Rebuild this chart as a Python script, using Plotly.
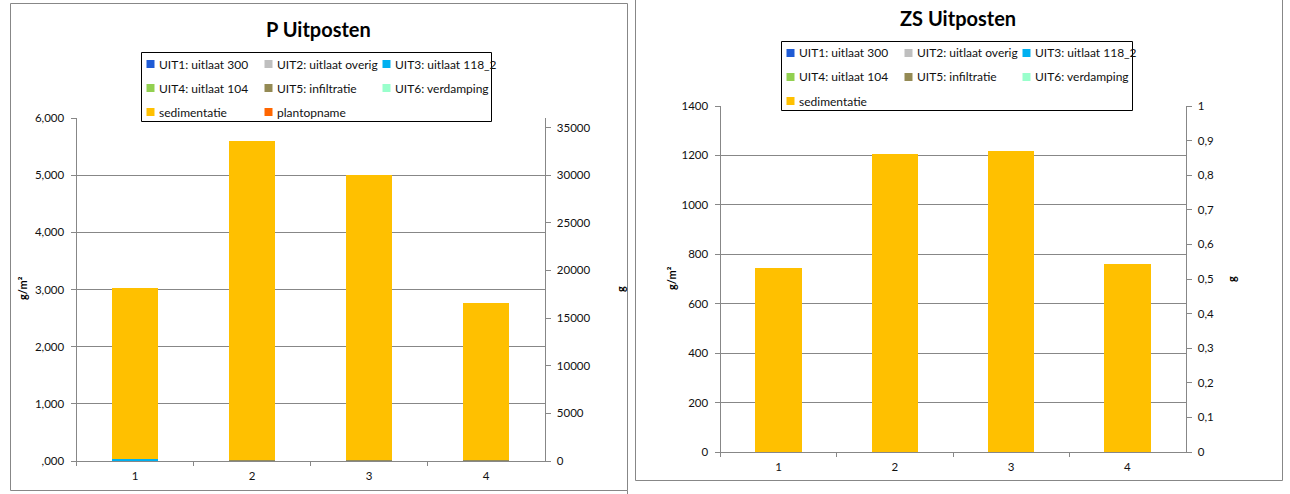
import plotly.graph_objects as go

W, H = 1290, 494

# categories and series (g/m2)
categories = ["1", "2", "3", "4"]
series_names = ["UIT1: uitlaat 300", "UIT2: uitlaat overig", "UIT3: uitlaat 118_2",
                "UIT4: uitlaat 104", "UIT5: infiltratie", "UIT6: verdamping",
                "sedimentatie", "plantopname"]
series_colors = ["#1F5BD5", "#BFBFBF", "#00B0F0", "#92D050", "#948A54", "#99FFCC",
                 "#FFC000", "#FF6600"]

# P Uitposten
p_uit1 = [0, 0, 0, 0]
p_uit2 = [0, 0, 0, 0]
p_uit3 = [40, 0, 0, 0]
p_uit4 = [0, 0, 0, 0]
p_uit5 = [0, 20, 20, 20]
p_uit6 = [0, 0, 0, 0]
p_sedimentatie = [2990, 5578, 4978, 2744]
p_plantopname = [0, 0, 0, 0]

# ZS Uitposten
zs_uit1 = [0, 0, 0, 0]
zs_uit2 = [0, 0, 0, 0]
zs_uit3 = [0, 0, 0, 0]
zs_uit4 = [0, 0, 0, 0]
zs_uit5 = [0, 0, 0, 0]
zs_uit6 = [0, 0, 0, 0]
zs_sedimentatie = [744, 1206, 1218, 761]

# tick labels
p_left_vals = [0, 1000, 2000, 3000, 4000, 5000, 6000]
p_left_text = [",000", "1,000", "2,000", "3,000", "4,000", "5,000", "6,000"]
p_right_vals = [0, 5000, 10000, 15000, 20000, 25000, 30000, 35000]
p_right_text = ["0", "5000", "10000", "15000", "20000", "25000", "30000", "35000"]
zs_left_vals = [0, 200, 400, 600, 800, 1000, 1200, 1400]
zs_left_text = ["0", "200", "400", "600", "800", "1000", "1200", "1400"]
zs_right_vals = [0, 0.1, 0.2, 0.3, 0.4, 0.5, 0.6, 0.7, 0.8, 0.9, 1]
zs_right_text = ["0", "0,1", "0,2", "0,3", "0,4", "0,5", "0,6", "0,7", "0,8", "0,9", "1"]

GRAY = "#878787"
FONT = "Lato"
TXT = "#111111"
TICKFONT = dict(family=FONT, size=11.5, color=TXT)


def px_x(v):
    return v / W


def px_y(v):
    return 1 - v / H


fig = go.Figure()

p_data = [p_uit1, p_uit2, p_uit3, p_uit4, p_uit5, p_uit6, p_sedimentatie, p_plantopname]
for name, vals, col in zip(series_names, p_data, series_colors):
    fig.add_trace(go.Bar(x=categories, y=vals, name=name, marker_color=col,
                         marker_line_width=0, xaxis="x", yaxis="y"))
# empty trace so the secondary axis is drawn
fig.add_trace(go.Scatter(x=categories, y=[None] * 4, xaxis="x", yaxis="y2", hoverinfo="skip"))

zs_data = [zs_uit1, zs_uit2, zs_uit3, zs_uit4, zs_uit5, zs_uit6, zs_sedimentatie]
for name, vals, col in zip(series_names[:7], zs_data, series_colors[:7]):
    fig.add_trace(go.Bar(x=categories, y=vals, name=name, marker_color=col,
                         marker_line_width=0, xaxis="x2", yaxis="y3"))
fig.add_trace(go.Scatter(x=categories, y=[None] * 4, xaxis="x2", yaxis="y4", hoverinfo="skip"))

xaxis_style = dict(type="category", showline=True, linecolor=GRAY, linewidth=1,
                   ticks="outside", ticklen=4, tickcolor=GRAY, tickson="boundaries",
                   showgrid=False, tickfont=TICKFONT, ticklabelstandoff=4,
                   fixedrange=True, automargin=False)
yaxis_style = dict(showline=True, linecolor=GRAY, linewidth=1, ticks="outside", ticklen=5,
                   tickcolor=GRAY, tickfont=TICKFONT, zeroline=False, fixedrange=True,
                   ticklabelstandoff=4, automargin=False)

# left chart: plot area x 76..544, y 118..461
# right chart: plot area x 720..1185, y 106..452
fig.update_layout(
    width=W, height=H,
    margin=dict(l=0, r=0, t=0, b=0, autoexpand=False),
    paper_bgcolor="white", plot_bgcolor="white",
    barmode="stack", bargap=0.6,
    showlegend=False,
    xaxis=dict(domain=[px_x(76.5), px_x(544.5)], anchor="y", **xaxis_style),
    yaxis=dict(domain=[px_y(461), px_y(118)], anchor="x", range=[0, 6000],
               tickvals=p_left_vals, ticktext=p_left_text,
               showgrid=True, gridcolor=GRAY, gridwidth=1, **yaxis_style),
    yaxis2=dict(overlaying="y", anchor="x", side="right", range=[0, 36000],
                tickvals=p_right_vals, ticktext=p_right_text, showgrid=False, **yaxis_style),
    xaxis2=dict(domain=[px_x(720.5), px_x(1185.5)], anchor="y3", **xaxis_style),
    yaxis3=dict(domain=[px_y(452), px_y(106)], anchor="x2", range=[0, 1400],
                tickvals=zs_left_vals, ticktext=zs_left_text,
                showgrid=True, gridcolor=GRAY, gridwidth=1, **yaxis_style),
    yaxis4=dict(overlaying="y3", anchor="x2", side="right", range=[0, 1],
                tickvals=zs_right_vals, ticktext=zs_right_text, showgrid=False, **yaxis_style),
)

shapes = [
    # panel borders
    dict(type="rect", x0=px_x(10.5), x1=px_x(627.5), y0=px_y(490.5), y1=px_y(3.5),
         line=dict(color=GRAY, width=1)),
    dict(type="line", x0=px_x(627.5), x1=px_x(627.5), y0=px_y(494), y1=px_y(490.5),
         line=dict(color=GRAY, width=1)),
    dict(type="line", x0=px_x(635.5), x1=px_x(635.5), y0=px_y(480.5), y1=1,
         line=dict(color=GRAY, width=1)),
    dict(type="line", x0=px_x(635.5), x1=px_x(1282.5), y0=px_y(480.5), y1=px_y(480.5),
         line=dict(color=GRAY, width=1)),
    dict(type="line", x0=px_x(1282.5), x1=px_x(1282.5), y0=px_y(480.5), y1=1,
         line=dict(color=GRAY, width=1)),
    # legend boxes
    dict(type="rect", x0=px_x(141.5), x1=px_x(491.5), y0=px_y(121.5), y1=px_y(52.5),
         line=dict(color="black", width=1)),
    dict(type="rect", x0=px_x(781.5), x1=px_x(1132.5), y0=px_y(110.5), y1=px_y(41.5),
         line=dict(color="black", width=1)),
]

ann = [
    dict(text="<b>P Uitposten</b>", x=px_x(318), y=px_y(29), font=dict(size=20)),
    dict(text="<b>ZS Uitposten</b>", x=px_x(958), y=px_y(18), font=dict(size=20)),
    dict(text="<b>g/m²</b>", x=px_x(22), y=px_y(288), textangle=-90, font=dict(size=11)),
    dict(text="<b>g</b>", x=px_x(620), y=px_y(289), textangle=-90, font=dict(size=11)),
    dict(text="<b>g/m²</b>", x=px_x(671), y=px_y(278), textangle=-90, font=dict(size=11)),
    dict(text="<b>g</b>", x=px_x(1231), y=px_y(279), textangle=-90, font=dict(size=11)),
]
for a in ann:
    a.update(showarrow=False, xanchor="center", yanchor="middle")
    a["font"] = dict(family=FONT, color="black", **a["font"])

# Excel style legend, three columns inside a framed box
legend_layouts = [
    # (n entries, column x of the swatch centres, row y, box right edge)
    (8, [150.5, 268.5, 386.5], [64, 88, 112], 491.5),
    (7, [790.5, 908.5, 1026.5], [53, 77, 101], 1132.5),
]
for n, cols, rows, right in legend_layouts:
    for i in range(n):
        cx, cy = cols[i % 3], rows[i // 3]
        shapes.append(dict(type="rect", x0=px_x(cx - 4), x1=px_x(cx + 4),
                           y0=px_y(cy + 4), y1=px_y(cy - 4),
                           fillcolor=series_colors[i], line=dict(width=0)))
        ann.append(dict(text=series_names[i], x=px_x(cx + 6), y=px_y(cy),
                        xanchor="left", yanchor="middle", showarrow=False,
                        width=right - cx - 3, align="left", borderpad=1,
                        font=dict(family=FONT, size=12, color=TXT)))

for s in shapes:
    s.update(xref="paper", yref="paper")
for a in ann:
    a.update(xref="paper", yref="paper")
fig.update_layout(shapes=shapes, annotations=ann)

# page body has a default 8px margin; drop it so the figure fills the window
fig.write_html("out.html", config={"displayModeBar": False},
               post_script="document.body.style.margin='0';")
